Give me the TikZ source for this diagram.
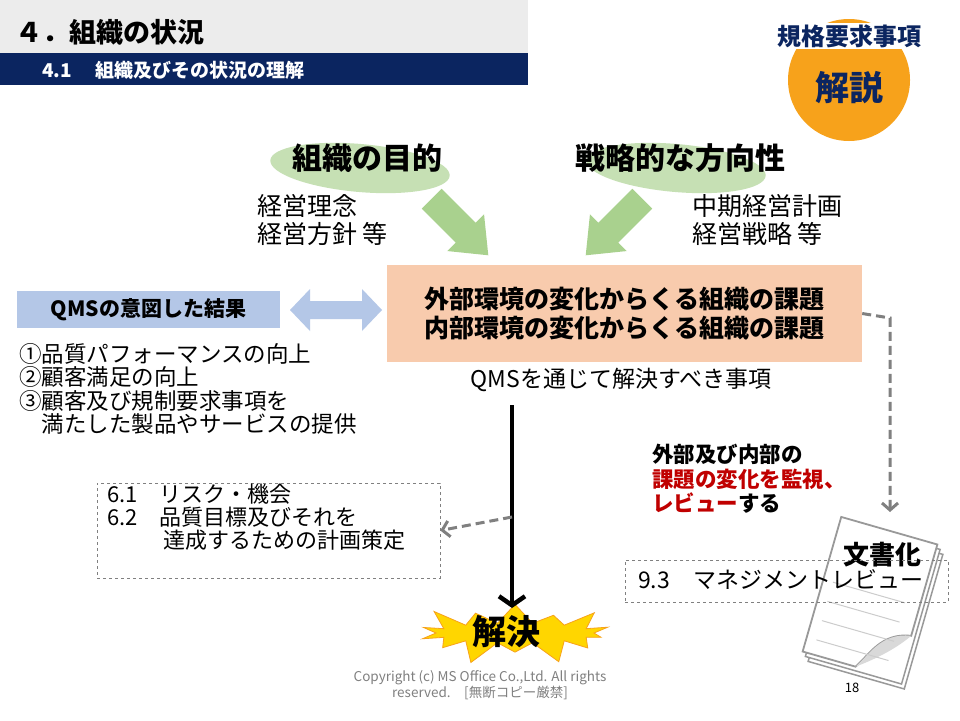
\documentclass[tikz,border=0pt]{standalone}
\usepackage{fontspec}
\setmainfont{Noto Sans CJK JP}
\usetikzlibrary{shapes.arrows,shapes.symbols,shapes.geometric,arrows.meta}
\definecolor{navy}{HTML}{0B2560}
\definecolor{hdrgray}{HTML}{ECECEC}
\definecolor{orng}{HTML}{F7A21B}
\definecolor{lgreen}{HTML}{C6E0B4}
\definecolor{agreen}{HTML}{A9D18E}
\definecolor{peach}{HTML}{F8CBAD}
\definecolor{lblue}{HTML}{B4C7E7}
\definecolor{dred}{HTML}{C00000}
\definecolor{dgray}{HTML}{808080}
\tikzset{
 fs/.style={font=\fontsize{#1}{#1}\selectfont},
 bfs/.style={font=\fontsize{#1}{#1}\selectfont\bfseries},
 txt/.style={inner sep=0pt, anchor=west},
 dbox/.style={draw=dgray, dashed, line width=0.6pt},
 dashconn/.style={dgray, line width=3pt, dash pattern=on 9pt off 5pt, -{Straight Barb[length=7pt,width=16pt]}},
}
\begin{document}
\begin{tikzpicture}[x=1pt,y=-1pt]
\useasboundingbox (0,0) rectangle (960,720);
\fill[white] (0,0) rectangle (960,720);
% header
\fill[hdrgray] (0,0) rectangle (528,53);
\node[txt, bfs=27] (title) at (15,32) {４．組織の状況};
\fill[navy] (0,53) rectangle (528,85);
\node[txt, bfs=19, text=white] (sub) at (42,70) {4.1\quad\ 組織及びその状況の理解};
% badge
\node[circle, fill=orng, minimum size=122pt, inner sep=0pt] (badge) at (849,80) {};
\node[bfs=24, text=navy, fill=white, inner sep=1pt] (req) at (849,36) {規格要求事項};
\node[bfs=34, text=navy] (kaisetsu) at (849,88) {解説};
% green ellipses
\node[ellipse, fill=lgreen, minimum width=180pt, minimum height=48pt, rotate=-5] (e1) at (360,168) {};
\node[bfs=30] (goal) at (367,158) {組織の目的};
\node[ellipse, fill=lgreen, minimum width=180pt, minimum height=48pt, rotate=-5] (e2) at (676,168) {};
\node[bfs=30] (strat) at (680,158) {戦略的な方向性};
\node[txt, fs=25, align=left, anchor=north west] (keiei) at (257,194) {経営理念\\[3pt]経営方針 等};
\node[txt, fs=25, align=left, anchor=north west] (chuki) at (692,194) {中期経営計画\\[3pt]経営戦略 等};
% green arrows
\begin{scope}[shift={(460,227)}, rotate=-45]
 \fill[agreen] (-40,-14) -- (8,-14) -- (8,-26) -- (40,0) -- (8,26) -- (8,14) -- (-40,14) -- cycle;
\end{scope}
\begin{scope}[shift={(614,227)}, rotate=-135]
 \fill[agreen] (-40,-14) -- (8,-14) -- (8,-26) -- (40,0) -- (8,26) -- (8,14) -- (-40,14) -- cycle;
\end{scope}
% peach box
\node[fill=peach, minimum width=475pt, minimum height=97pt, bfs=25, align=center] (issue) at (624.5,313.5) {外部環境の変化からくる組織の課題\\[4pt]内部環境の変化からくる組織の課題};
% QMS result
\node[fill=lblue, minimum width=263pt, minimum height=37pt, bfs=21] (qms) at (148.5,309.5) {QMSの意図した結果};
\begin{scope}[shift={(336,310)}]
 \fill[lblue] (-46,0) -- (-26,-21) -- (-26,-9) -- (26,-9) -- (26,-21) -- (46,0) -- (26,21) -- (26,9) -- (-26,9) -- (-26,21) -- cycle;
\end{scope}
\node[txt, fs=22.5, align=left, anchor=north west] (list) at (19,343) {①品質パフォーマンスの向上\\[1pt]②顧客満足の向上\\[1pt]③顧客及び規制要求事項を\\[1pt]\hspace{1em}満たした製品やサービスの提供};
\node[fs=23] (through) at (621,380) {QMSを通じて解決すべき事項};
% plan box
\node[dbox, minimum width=343pt, minimum height=95pt] (plan) at (268.5,530.5) {};
\node[txt, fs=22, align=left, anchor=north west] (plantxt) at (107,484) {6.1\quad リスク・機会\\[1pt]6.2\quad 品質目標及びそれを\\[1pt]\hspace{2.55em}達成するための計画策定};
% starburst
\node[starburst, fill={rgb,255:red,255;green,214;blue,0}, draw=orng, line width=0.8pt, minimum width=210pt, minimum height=72pt, starburst points=14, starburst point height=26pt] (burst) at (515,633) {};
\node[bfs=34] (kaiketsu) at (506,632) {解決};
% main arrow
\coordinate (mstart) at (512,405);
\coordinate (mend) at (512,608);
\draw[line width=4.5pt, -{Straight Barb[length=9pt,width=26pt]}] (mstart) -- (mend);
\coordinate (tap) at (512,517);
\draw[dashconn] (tap) -- (plan.east);
% document icon
\begin{scope}[shift={(870,598)}, rotate=-16]
 \foreach \d in {8,4} {\draw[fill=white, draw=dgray!80, line width=1.5pt] (-50+\d,-70+\d) rectangle (50+\d,70+\d);}
 \draw[fill=white, draw=dgray!80, line width=1.8pt] (-50,-70) -- (50,-70) -- (50,25) .. controls (20,30) and (15,55) .. (5,70) -- (-50,70) -- cycle;
 \fill[gray!30] (50,25) .. controls (20,30) and (15,55) .. (5,70) .. controls (25,55) and (40,40) .. (50,25);
 \foreach \yy in {-5,15,35,55} {\draw[gray!40, line width=1pt] (-40,\yy) -- (35,\yy);}
 \node[bfs=26] (bunsho) at (0,-45) {文書化};
\end{scope}
% review box
\node[dbox, minimum width=323pt, minimum height=42pt] (review) at (786.5,581) {};
\node[txt, fs=23] (revtxt) at (638,580) {9.3\quad マネジメントレビュー};
% dashed connector
\coordinate (bend) at (890,318);
\coordinate (dend) at (890,512);
\draw[dashconn] (issue.east) -- (bend) -- (dend);
\node[txt, bfs=21.5, align=left, anchor=north west] (monitor) at (652,444) {外部及び内部の\\[3pt]\textcolor{dred}{課題の変化を監視、}\\[3pt]\textcolor{dred}{レビュー}する};
% footer
\node[fs=13.5, text=dgray, align=center] (copy) at (480,685) {Copyright (c) MS Office Co.,Ltd. All rights\\reserved.\quad [無断コピー厳禁]};
\node[fs=13] (page) at (852,688) {18};
\end{tikzpicture}
\end{document}
